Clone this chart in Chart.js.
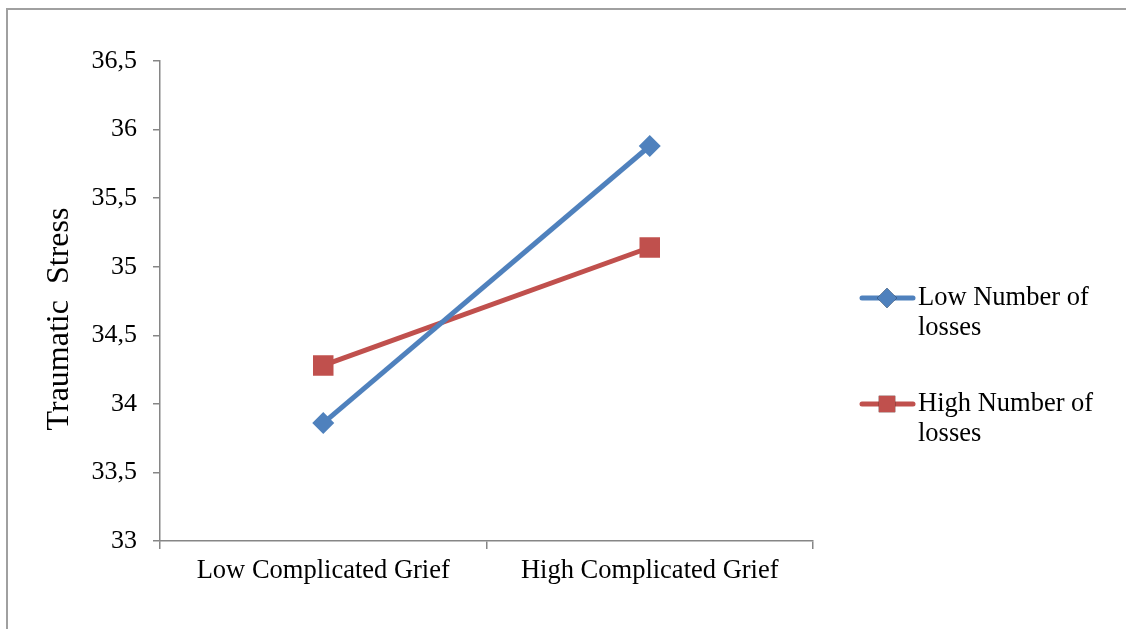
<!DOCTYPE html>
<html>
<head>
<meta charset="utf-8">
<script src="https://cdn.jsdelivr.net/npm/chart.js@4"></script>
<style>
  html, body { margin: 0; padding: 0; background: #fff; }
  #wrap { width: 1126px; height: 629px; position: relative; }
</style>
</head>
<body>
<div id="wrap"><canvas id="linechart" width="1126" height="629"></canvas></div>
<script>
// categories and values
const categories = ['Low Complicated Grief', 'High Complicated Grief'];
const seriesNames = ['Low Number of losses', 'High Number of losses'];
const lowLosses = [33.86, 35.88];
const highLosses = [34.28, 35.14];
const yTicks = [33, 33.5, 34, 34.5, 35, 35.5, 36, 36.5];
const yTitle = 'Traumatic  Stress';

const serif = '"Liberation Serif", "Times New Roman", serif';
const axisGray = '#868686';

// frame round the whole chart, like the Excel chart area border
const framePlugin = {
    id: 'frame',
    beforeDraw: function(chart) {
        const ctx = chart.ctx;
        ctx.save();
        ctx.fillStyle = '#fff';
        ctx.fillRect(0, 0, chart.width, chart.height);
        ctx.strokeStyle = '#a0a0a0';
        ctx.lineWidth = 2;
        ctx.strokeRect(7, 9, chart.width + 10, chart.height + 10);
        ctx.restore();
    }
};

// y axis title, a bit below the plot centre as in the original
const yTitlePlugin = {
    id: 'yTitle',
    afterDraw: function(chart) {
        const ctx = chart.ctx;
        ctx.save();
        ctx.translate(60, 319);
        ctx.rotate(-Math.PI / 2);
        ctx.font = '32px ' + serif;
        ctx.fillStyle = '#000';
        ctx.textAlign = 'center';
        ctx.textBaseline = 'middle';
        ctx.fillText(yTitle, 0, 0);
        ctx.restore();
    }
};

// legend on the right with wrapped labels and line + marker samples
const sideLegend = {
    id: 'sideLegend',
    afterDraw: function(chart) {
        const ctx = chart.ctx;
        const startY = [298, 404];
        ctx.save();
        ctx.font = '26.5px ' + serif;
        ctx.textBaseline = 'middle';
        chart.data.datasets.forEach(function(ds, i) {
            const y = startY[i];
            ctx.strokeStyle = ds.borderColor;
            ctx.lineWidth = 5;
            ctx.lineCap = 'round';
            ctx.beginPath();
            ctx.moveTo(862, y);
            ctx.lineTo(913, y);
            ctx.stroke();
            Chart.helpers.drawPoint(ctx, {
                pointStyle: ds.pointStyle,
                radius: ds.pointStyle === 'rect' ? ds.pointRadius * 0.8 : ds.pointRadius * 0.9,
                borderWidth: 0
            }, 887, y);
            ctx.fillStyle = ds.borderColor;
            ctx.fill();

            // simple word wrap
            const words = ds.label.split(' ');
            const lines = [];
            let cur = '';
            words.forEach(function(w) {
                const test = cur ? cur + ' ' + w : w;
                if (ctx.measureText(test).width > 195 && cur) {
                    lines.push(cur);
                    cur = w;
                } else {
                    cur = test;
                }
            });
            lines.push(cur);
            ctx.fillStyle = '#000';
            lines.forEach(function(t, k) {
                ctx.fillText(t, 918, y + k * 30);
            });
        });
        ctx.restore();
    }
};

const config = {
    type: 'line',
    data: {
        labels: categories,
        datasets: [{
            label: seriesNames[0],
            data: lowLosses,
            borderColor: '#4f81bd',
            backgroundColor: '#4f81bd',
            borderWidth: 5,
            pointStyle: 'rectRot',
            pointRadius: 11,
            pointBorderWidth: 0,
            pointHoverRadius: 11
        }, {
            label: seriesNames[1],
            data: highLosses,
            borderColor: '#c0504d',
            backgroundColor: '#c0504d',
            borderWidth: 5,
            pointStyle: 'rect',
            pointRadius: 14.5,
            pointBorderWidth: 0,
            pointHoverRadius: 14.5
        }]
    },
    options: {
        responsive: false,
        animation: false,
        layout: {
            padding: { left: 0, top: 61, right: 313, bottom: 0 }
        },
        plugins: {
            legend: { display: false },
            tooltip: { enabled: false }
        },
        scales: {
            x: {
                offset: true,
                grid: {
                    offset: true,
                    drawOnChartArea: false,
                    drawTicks: true,
                    tickLength: 8,
                    tickColor: axisGray,
                    lineWidth: 1.5
                },
                border: { color: axisGray, width: 1.5 },
                ticks: {
                    color: '#000',
                    font: { family: serif, size: 26.5 },
                    padding: 6,
                    maxRotation: 0
                },
                afterFit: function(scale) { scale.height = 88; }
            },
            y: {
                min: 33,
                max: 36.5,
                afterBuildTicks: function(scale) {
                    scale.ticks = yTicks.map(v => ({ value: v }));
                },
                grid: {
                    drawOnChartArea: false,
                    drawTicks: true,
                    tickLength: 7,
                    tickColor: axisGray,
                    lineWidth: 1.5
                },
                border: { color: axisGray, width: 1.5 },
                ticks: {
                    color: '#000',
                    font: { family: serif, size: 26 },
                    padding: 16,
                    callback: function(value) {
                        return String(value).replace('.', ',');
                    }
                },
                afterFit: function(scale) { scale.width = 160; }
            }
        }
    },
    plugins: [framePlugin, yTitlePlugin, sideLegend]
};

new Chart(document.getElementById('linechart'), config);
</script>
</body>
</html>
